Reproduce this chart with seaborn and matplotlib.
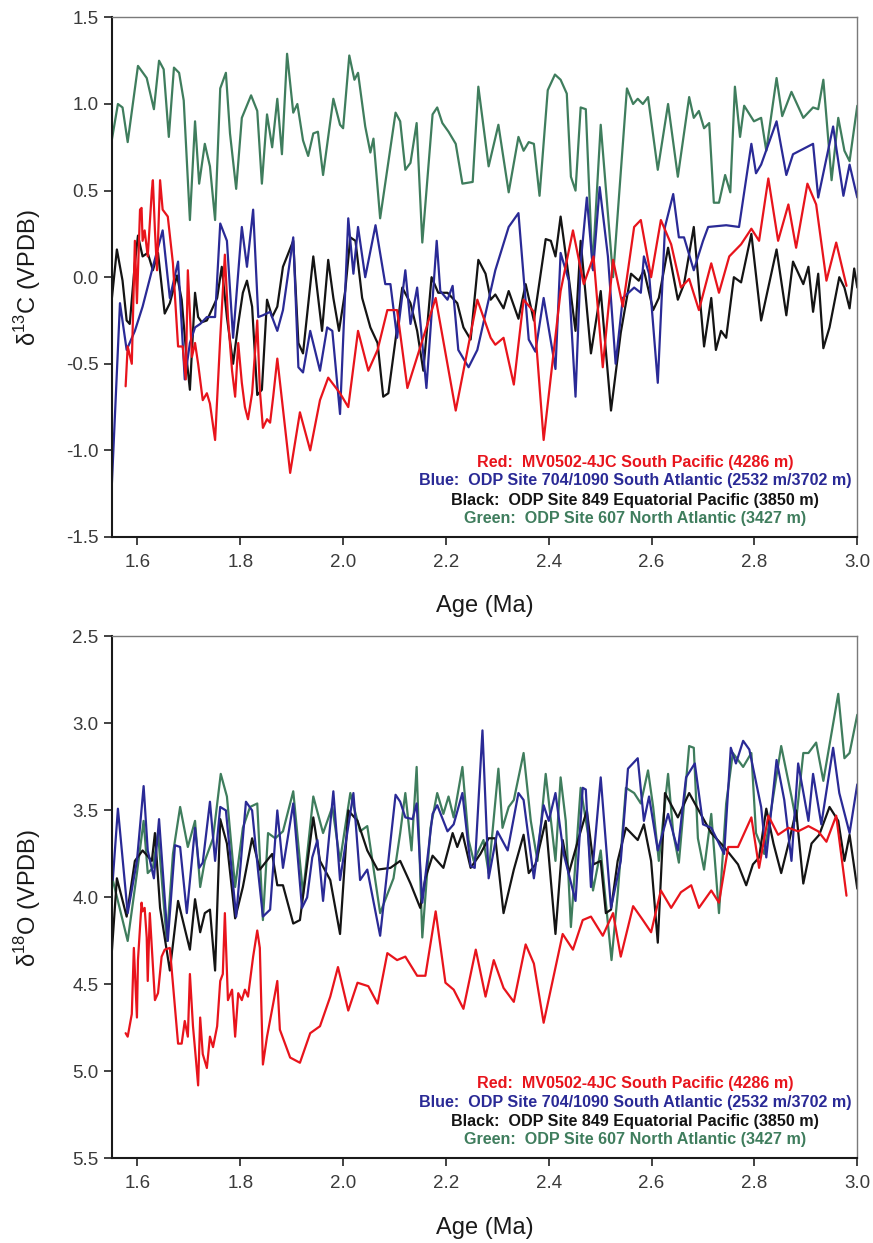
import numpy as np
import pandas as pd
import matplotlib
matplotlib.use('Agg')
import matplotlib.pyplot as plt
import seaborn as sns

# ---------------- 数据 ----------------
# δ13C, 绿色: ODP 607 North Atlantic
c13_green_age = [1.550, 1.562, 1.571, 1.581, 1.601, 1.618, 1.632, 1.642, 1.651, 1.661, 1.671, 1.681, 1.690,
                 1.702, 1.712, 1.720, 1.731, 1.741, 1.751, 1.761, 1.772, 1.780, 1.792, 1.803, 1.821, 1.833,
                 1.842, 1.852, 1.862, 1.872, 1.881, 1.891, 1.903, 1.911, 1.922, 1.932, 1.942, 1.951, 1.961,
                 1.981, 1.994, 2.000, 2.012, 2.022, 2.029, 2.043, 2.053, 2.059, 2.072, 2.102, 2.111, 2.121,
                 2.131, 2.143, 2.154, 2.174, 2.183, 2.193, 2.205, 2.219, 2.232, 2.252, 2.263, 2.283, 2.302,
                 2.322, 2.341, 2.351, 2.361, 2.371, 2.382, 2.398, 2.412, 2.423, 2.435, 2.443, 2.452, 2.462,
                 2.472, 2.485, 2.501, 2.525, 2.552, 2.564, 2.573, 2.583, 2.593, 2.612, 2.632, 2.651, 2.673,
                 2.682, 2.692, 2.702, 2.712, 2.721, 2.731, 2.743, 2.753, 2.762, 2.772, 2.780, 2.799, 2.813,
                 2.823, 2.843, 2.854, 2.872, 2.895, 2.914, 2.924, 2.934, 2.950, 2.963, 2.975, 2.985, 3.000]
c13_green = [0.79, 1.00, 0.98, 0.78, 1.22, 1.15, 0.97, 1.25, 1.20, 0.81, 1.21, 1.18, 1.02,
             0.33, 0.90, 0.54, 0.77, 0.64, 0.33, 1.09, 1.18, 0.83, 0.51, 0.92, 1.05, 0.96,
             0.54, 0.94, 0.75, 1.03, 0.71, 1.29, 0.95, 1.00, 0.79, 0.70, 0.83, 0.84, 0.59,
             1.03, 0.88, 0.86, 1.28, 1.14, 1.18, 0.87, 0.72, 0.80, 0.34, 0.95, 0.90, 0.62,
             0.66, 0.89, 0.20, 0.94, 0.98, 0.89, 0.84, 0.77, 0.54, 0.55, 1.10, 0.64, 0.88,
             0.49, 0.81, 0.73, 0.78, 0.77, 0.47, 1.08, 1.17, 1.14, 1.06, 0.58, 0.50, 0.98,
             0.97, 0.05, 0.88, 0.00, 1.09, 1.00, 1.03, 1.00, 1.04, 0.62, 1.00, 0.58, 1.04,
             0.92, 0.96, 0.86, 0.89, 0.43, 0.43, 0.59, 0.49, 1.10, 0.81, 0.99, 0.90, 0.92,
             0.73, 1.15, 0.93, 1.07, 0.92, 0.98, 0.97, 1.14, 0.56, 0.92, 0.73, 0.67, 0.99]

# δ13C, 蓝色: ODP 704/1090 South Atlantic
c13_blue_age = [1.550, 1.566, 1.579, 1.595, 1.610, 1.630, 1.649, 1.663, 1.679, 1.692, 1.702, 1.712, 1.722,
                1.735, 1.751, 1.761, 1.774, 1.786, 1.803, 1.813, 1.825, 1.835, 1.844, 1.858, 1.872, 1.883,
                1.903, 1.913, 1.922, 1.936, 1.955, 1.969, 1.979, 1.994, 2.010, 2.020, 2.029, 2.043, 2.063,
                2.082, 2.092, 2.105, 2.121, 2.131, 2.144, 2.162, 2.182, 2.189, 2.203, 2.213, 2.224, 2.244,
                2.261, 2.296, 2.322, 2.341, 2.361, 2.374, 2.390, 2.413, 2.423, 2.439, 2.452, 2.462, 2.474,
                2.486, 2.499, 2.515, 2.530, 2.544, 2.566, 2.579, 2.585, 2.595, 2.612, 2.626, 2.642, 2.653,
                2.663, 2.682, 2.700, 2.710, 2.745, 2.770, 2.794, 2.803, 2.813, 2.843, 2.862, 2.875, 2.914,
                2.924, 2.953, 2.973, 2.985, 3.000]
c13_blue = [-1.21, -0.15, -0.42, -0.31, -0.17, 0.06, 0.27, -0.12, 0.09, -0.59, -0.38, -0.29, -0.27,
            -0.23, -0.23, 0.31, 0.21, -0.35, 0.29, 0.06, 0.39, -0.23, -0.22, -0.20, -0.31, -0.19,
            0.23, -0.52, -0.55, -0.31, -0.54, -0.29, -0.31, -0.79, 0.34, 0.02, 0.29, 0.00, 0.30,
            -0.04, -0.04, -0.35, 0.04, -0.27, -0.06, -0.64, 0.21, -0.08, -0.13, -0.05, -0.42, -0.52,
            -0.42, 0.04, 0.29, 0.37, -0.36, -0.43, -0.12, -0.53, 0.14, -0.02, -0.69, 0.08, 0.46,
            0.04, 0.52, 0.12, -0.50, -0.12, -0.06, -0.09, 0.12, 0.02, -0.61, 0.29, 0.48, 0.23,
            0.23, 0.04, 0.21, 0.29, 0.30, 0.29, 0.77, 0.60, 0.65, 0.90, 0.59, 0.71, 0.77,
            0.46, 0.87, 0.47, 0.65, 0.46]

# δ13C, 黑色: ODP 849 Equatorial Pacific
c13_black_age = [1.550, 1.560, 1.571, 1.579, 1.585, 1.595, 1.601, 1.610, 1.620, 1.630, 1.640, 1.653, 1.663,
                 1.677, 1.686, 1.696, 1.702, 1.712, 1.718, 1.725, 1.735, 1.755, 1.764, 1.774, 1.786, 1.796,
                 1.805, 1.813, 1.823, 1.833, 1.842, 1.852, 1.862, 1.872, 1.883, 1.903, 1.913, 1.922, 1.942,
                 1.959, 1.971, 1.981, 1.992, 2.004, 2.014, 2.024, 2.037, 2.053, 2.067, 2.078, 2.088, 2.102,
                 2.115, 2.131, 2.144, 2.156, 2.172, 2.185, 2.203, 2.222, 2.234, 2.248, 2.263, 2.277, 2.287,
                 2.296, 2.312, 2.322, 2.341, 2.355, 2.371, 2.394, 2.404, 2.413, 2.423, 2.437, 2.452, 2.462,
                 2.482, 2.501, 2.521, 2.540, 2.560, 2.575, 2.585, 2.603, 2.614, 2.632, 2.651, 2.663, 2.682,
                 2.702, 2.716, 2.725, 2.735, 2.745, 2.760, 2.774, 2.794, 2.813, 2.843, 2.862, 2.875, 2.895,
                 2.905, 2.914, 2.924, 2.934, 2.946, 2.965, 2.975, 2.985, 2.994, 3.000]
c13_black = [-0.13, 0.16, -0.02, -0.25, -0.27, 0.08, 0.24, 0.12, 0.14, 0.04, 0.14, -0.21, -0.15,
             0.01, -0.13, -0.48, -0.65, -0.09, -0.23, -0.26, -0.25, -0.12, 0.06, -0.23, -0.50, -0.27,
             -0.09, -0.02, -0.17, -0.68, -0.65, -0.13, -0.23, -0.17, 0.06, 0.21, -0.38, -0.44, 0.12,
             -0.31, 0.10, -0.12, -0.31, -0.08, 0.23, 0.21, -0.12, -0.29, -0.38, -0.69, -0.67, -0.36,
             -0.06, -0.15, -0.31, -0.54, 0.00, -0.09, -0.09, -0.15, -0.29, -0.36, 0.10, 0.02, -0.13,
             -0.10, -0.18, -0.08, -0.24, -0.04, -0.25, 0.22, 0.21, 0.12, 0.35, 0.04, -0.31, 0.21,
             -0.44, -0.08, -0.77, -0.32, 0.02, -0.02, 0.04, -0.19, -0.12, 0.17, -0.13, -0.04, 0.29,
             -0.40, -0.12, -0.42, -0.31, -0.35, 0.00, -0.03, 0.25, -0.25, 0.16, -0.22, 0.09, -0.04,
             0.06, -0.20, 0.02, -0.41, -0.29, 0.00, -0.06, -0.18, 0.05, -0.06]

# δ13C, 红色: MV0502-4JC South Pacific
c13_red_age = [1.577, 1.581, 1.589, 1.595, 1.599, 1.605, 1.608, 1.610, 1.614, 1.620, 1.628, 1.630, 1.634,
               1.638, 1.644, 1.649, 1.659, 1.669, 1.679, 1.688, 1.694, 1.698, 1.706, 1.712, 1.718, 1.727,
               1.735, 1.741, 1.751, 1.761, 1.770, 1.776, 1.784, 1.790, 1.796, 1.803, 1.809, 1.815, 1.823,
               1.833, 1.838, 1.844, 1.852, 1.858, 1.864, 1.872, 1.897, 1.916, 1.936, 1.955, 1.971, 1.994,
               2.010, 2.029, 2.049, 2.067, 2.086, 2.105, 2.125, 2.180, 2.219, 2.261, 2.287, 2.296, 2.312,
               2.332, 2.351, 2.371, 2.390, 2.423, 2.447, 2.468, 2.487, 2.505, 2.525, 2.544, 2.566, 2.579,
               2.599, 2.618, 2.638, 2.657, 2.673, 2.692, 2.716, 2.731, 2.751, 2.774, 2.794, 2.809, 2.827,
               2.846, 2.866, 2.881, 2.903, 2.920, 2.940, 2.959, 2.979]
c13_red = [-0.63, -0.40, -0.50, 0.21, -0.15, 0.39, 0.40, 0.21, 0.27, 0.12, 0.50, 0.56, 0.27,
           0.04, 0.56, 0.39, 0.35, 0.08, -0.40, -0.40, -0.59, 0.04, -0.46, -0.38, -0.50, -0.71,
           -0.67, -0.73, -0.94, -0.35, 0.13, -0.23, -0.54, -0.69, -0.38, -0.61, -0.75, -0.82, -0.67,
           -0.25, -0.65, -0.87, -0.82, -0.84, -0.69, -0.47, -1.13, -0.78, -1.00, -0.71, -0.58, -0.67,
           -0.75, -0.31, -0.54, -0.42, -0.19, -0.19, -0.64, -0.12, -0.77, -0.13, -0.35, -0.39, -0.35,
           -0.62, -0.13, -0.20, -0.94, -0.08, 0.27, -0.04, 0.12, -0.52, 0.10, -0.17, 0.29, 0.33,
           0.00, 0.33, 0.19, -0.06, -0.01, -0.19, 0.08, -0.09, 0.12, 0.19, 0.28, 0.21, 0.57,
           0.21, 0.42, 0.17, 0.54, 0.42, -0.02, 0.20, -0.05]

# δ18O, 绿色
o18_green_age = [1.552, 1.581, 1.599, 1.612, 1.620, 1.630, 1.640, 1.657, 1.669, 1.683, 1.698, 1.712, 1.722,
                 1.731, 1.747, 1.762, 1.774, 1.790, 1.805, 1.819, 1.833, 1.844, 1.854, 1.868, 1.883, 1.903,
                 1.922, 1.942, 1.961, 1.979, 1.994, 2.014, 2.033, 2.047, 2.072, 2.098, 2.111, 2.121, 2.133,
                 2.143, 2.154, 2.170, 2.183, 2.195, 2.205, 2.215, 2.232, 2.244, 2.254, 2.273, 2.283, 2.302,
                 2.310, 2.322, 2.332, 2.351, 2.365, 2.378, 2.394, 2.413, 2.423, 2.433, 2.443, 2.462, 2.476,
                 2.486, 2.501, 2.522, 2.534, 2.550, 2.566, 2.579, 2.593, 2.603, 2.614, 2.632, 2.642, 2.653,
                 2.673, 2.682, 2.690, 2.702, 2.716, 2.731, 2.745, 2.758, 2.778, 2.794, 2.803, 2.819, 2.852,
                 2.872, 2.881, 2.895, 2.905, 2.920, 2.934, 2.963, 2.975, 2.985, 3.000]
o18_green = [3.90, 4.25, 3.86, 3.56, 3.86, 3.83, 3.63, 4.25, 3.75, 3.48, 3.71, 3.56, 3.94,
             3.79, 3.66, 3.29, 3.42, 3.94, 3.60, 3.48, 3.46, 4.13, 3.63, 3.66, 3.62, 3.39,
             3.98, 3.42, 3.63, 3.48, 3.79, 3.40, 3.62, 3.59, 4.09, 3.89, 3.63, 3.40, 3.73,
             3.25, 4.23, 3.60, 3.40, 3.52, 3.42, 3.54, 3.25, 3.67, 3.79, 3.67, 3.86, 3.26,
             3.60, 3.48, 3.44, 3.17, 3.56, 3.79, 3.29, 3.79, 3.31, 3.56, 4.17, 3.37, 3.63,
             3.96, 3.73, 4.36, 3.98, 3.37, 3.40, 3.46, 3.27, 3.48, 3.79, 3.29, 3.63, 3.80,
             3.13, 3.14, 3.66, 3.84, 3.52, 4.09, 3.46, 3.17, 3.25, 3.17, 3.63, 3.75, 3.13,
             3.42, 3.56, 3.17, 3.17, 3.11, 3.33, 2.83, 3.20, 3.17, 2.95]

# δ18O, 蓝色
o18_blue_age = [1.552, 1.562, 1.581, 1.599, 1.612, 1.620, 1.632, 1.642, 1.659, 1.673, 1.683, 1.696, 1.712,
                1.720, 1.727, 1.741, 1.751, 1.761, 1.772, 1.792, 1.811, 1.823, 1.835, 1.844, 1.858, 1.872,
                1.883, 1.903, 1.920, 1.930, 1.940, 1.950, 1.961, 1.981, 1.994, 2.008, 2.020, 2.033, 2.047,
                2.072, 2.102, 2.111, 2.121, 2.135, 2.143, 2.154, 2.174, 2.183, 2.203, 2.215, 2.232, 2.248,
                2.256, 2.271, 2.283, 2.300, 2.320, 2.341, 2.351, 2.371, 2.390, 2.400, 2.413, 2.429, 2.452,
                2.466, 2.472, 2.482, 2.501, 2.521, 2.540, 2.554, 2.573, 2.585, 2.595, 2.612, 2.632, 2.651,
                2.667, 2.684, 2.700, 2.716, 2.741, 2.754, 2.764, 2.778, 2.790, 2.813, 2.823, 2.843, 2.858,
                2.872, 2.885, 2.905, 2.914, 2.930, 2.953, 2.965, 2.985, 3.000]
o18_blue = [3.90, 3.49, 4.09, 3.79, 3.36, 3.73, 3.89, 3.55, 4.25, 3.70, 3.71, 4.09, 3.60,
            3.83, 3.80, 3.45, 3.79, 3.48, 3.50, 4.11, 3.45, 3.50, 3.86, 4.11, 4.07, 3.50,
            3.83, 3.46, 4.06, 4.00, 3.77, 3.67, 4.02, 3.39, 3.90, 3.63, 3.40, 3.90, 3.84,
            4.22, 3.41, 3.45, 3.54, 3.55, 3.46, 4.03, 3.52, 3.47, 3.62, 3.58, 3.40, 3.82,
            3.83, 3.04, 3.89, 3.62, 3.73, 3.40, 3.44, 3.89, 3.47, 3.56, 3.40, 3.75, 4.02,
            3.37, 3.38, 3.94, 3.31, 4.06, 3.79, 3.26, 3.20, 3.56, 3.42, 3.73, 3.52, 3.73,
            3.31, 3.23, 3.58, 3.60, 3.75, 3.14, 3.23, 3.10, 3.15, 3.48, 3.77, 3.21, 3.44,
            3.79, 3.23, 3.56, 3.29, 3.58, 3.14, 3.40, 3.63, 3.35]

# δ18O, 黑色
o18_black_age = [1.550, 1.560, 1.579, 1.595, 1.610, 1.628, 1.634, 1.644, 1.663, 1.679, 1.702, 1.712, 1.722,
                 1.731, 1.741, 1.751, 1.761, 1.774, 1.790, 1.805, 1.823, 1.838, 1.862, 1.872, 1.883, 1.903,
                 1.916, 1.942, 1.955, 1.975, 1.994, 2.010, 2.028, 2.047, 2.067, 2.092, 2.111, 2.131, 2.150,
                 2.160, 2.174, 2.195, 2.213, 2.222, 2.232, 2.248, 2.267, 2.283, 2.296, 2.312, 2.332, 2.351,
                 2.361, 2.374, 2.394, 2.413, 2.427, 2.439, 2.458, 2.474, 2.487, 2.501, 2.511, 2.521, 2.534,
                 2.550, 2.573, 2.585, 2.599, 2.612, 2.626, 2.651, 2.673, 2.686, 2.716, 2.741, 2.768, 2.784,
                 2.797, 2.809, 2.823, 2.837, 2.852, 2.868, 2.881, 2.895, 2.911, 2.926, 2.946, 2.963, 2.975,
                 2.985, 3.000]
o18_black = [4.32, 3.89, 4.11, 3.79, 3.73, 3.79, 3.63, 4.06, 4.42, 4.02, 4.30, 4.01, 4.20,
             4.09, 4.07, 4.42, 3.55, 3.69, 4.12, 3.94, 3.66, 3.84, 3.75, 3.93, 3.93, 4.15,
             4.13, 3.54, 3.79, 3.90, 4.21, 3.50, 3.56, 3.73, 3.84, 3.83, 3.79, 3.92, 4.06,
             3.89, 3.76, 3.83, 3.63, 3.71, 3.63, 3.83, 3.75, 3.66, 3.66, 4.09, 3.84, 3.64,
             3.86, 3.81, 3.56, 4.21, 3.67, 3.86, 3.66, 3.50, 3.81, 3.79, 4.09, 4.07, 3.79,
             3.60, 3.67, 3.58, 3.79, 4.26, 3.40, 3.54, 3.40, 3.47, 3.63, 3.71, 3.81, 3.93,
             3.81, 3.77, 3.49, 3.69, 3.86, 3.67, 3.50, 3.92, 3.69, 3.64, 3.48, 3.56, 3.79,
             3.64, 3.95]

# δ18O, 红色
o18_red_age = [1.577, 1.581, 1.589, 1.593, 1.599, 1.601, 1.608, 1.610, 1.614, 1.618, 1.620, 1.624, 1.628,
               1.634, 1.640, 1.647, 1.653, 1.663, 1.679, 1.686, 1.692, 1.698, 1.702, 1.708, 1.714, 1.718,
               1.722, 1.727, 1.735, 1.741, 1.747, 1.755, 1.761, 1.766, 1.770, 1.776, 1.784, 1.790, 1.796,
               1.803, 1.809, 1.815, 1.825, 1.833, 1.838, 1.844, 1.852, 1.864, 1.872, 1.877, 1.897, 1.916,
               1.936, 1.955, 1.975, 1.990, 2.010, 2.028, 2.049, 2.067, 2.086, 2.105, 2.121, 2.144, 2.160,
               2.180, 2.199, 2.215, 2.234, 2.258, 2.277, 2.293, 2.312, 2.332, 2.355, 2.371, 2.390, 2.427,
               2.447, 2.466, 2.482, 2.505, 2.525, 2.540, 2.564, 2.583, 2.599, 2.618, 2.638, 2.657, 2.677,
               2.692, 2.716, 2.731, 2.749, 2.768, 2.794, 2.809, 2.827, 2.846, 2.866, 2.885, 2.905, 2.924,
               2.940, 2.959, 2.979]
o18_red = [4.78, 4.80, 4.67, 4.29, 4.69, 4.36, 4.03, 4.08, 4.06, 4.23, 4.48, 4.09, 4.29,
           4.59, 4.55, 4.34, 4.30, 4.29, 4.84, 4.84, 4.71, 4.80, 4.44, 4.74, 4.94, 5.08,
           4.69, 4.90, 4.98, 4.80, 4.86, 4.74, 4.48, 4.44, 4.09, 4.59, 4.53, 4.80, 4.55,
           4.59, 4.53, 4.57, 4.34, 4.19, 4.29, 4.96, 4.80, 4.61, 4.48, 4.76, 4.92, 4.95,
           4.78, 4.74, 4.57, 4.40, 4.65, 4.49, 4.51, 4.61, 4.32, 4.36, 4.34, 4.45, 4.45,
           4.08, 4.49, 4.53, 4.64, 4.30, 4.57, 4.36, 4.52, 4.60, 4.27, 4.38, 4.72, 4.21,
           4.30, 4.13, 4.11, 4.22, 4.09, 4.34, 4.05, 4.13, 4.20, 3.96, 4.06, 3.97, 3.93,
           4.06, 3.96, 4.03, 3.71, 3.71, 3.54, 3.83, 3.53, 3.64, 3.60, 3.62, 3.59, 3.62,
           3.68, 3.53, 3.99]

x_ticks = [1.6, 1.8, 2.0, 2.2, 2.4, 2.6, 2.8, 3.0]
c13_ticks = [1.5, 1.0, 0.5, 0.0, -0.5, -1.0, -1.5]
o18_ticks = [2.5, 3.0, 3.5, 4.0, 4.5, 5.0, 5.5]

legend_lines = [
    ('Red:  MV0502-4JC South Pacific (4286 m)', '#e8141c'),
    ('Blue:  ODP Site 704/1090 South Atlantic (2532 m/3702 m)', '#2a2a96'),
    ('Black:  ODP Site 849 Equatorial Pacific (3850 m)', '#141414'),
    ('Green:  ODP Site 607 North Atlantic (3427 m)', '#3f7d5d'),
]

# ---------------- 样式 ----------------
sns.set_style('white')
plt.rcParams['font.family'] = ['Liberation Sans', 'DejaVu Sans']
plt.rcParams['mathtext.fontset'] = 'custom'
plt.rcParams['mathtext.rm'] = 'Liberation Sans'

colors = {'red': '#e8141c', 'blue': '#2a2a96', 'black': '#141414', 'green': '#3f7d5d'}

fig = plt.figure(figsize=(8.73, 12.43), dpi=100)
ax_top = fig.add_axes([0.128, 0.568, 0.854, 0.418])
ax_bot = fig.add_axes([0.128, 0.068, 0.854, 0.420])


def draw_series(ax, series):
    # 先画绿色, 红色放在最上层
    for age, val, c in series:
        df = pd.DataFrame({'age': age, 'val': val})
        sns.lineplot(data=df, x='age', y='val', ax=ax, color=colors[c], lw=1.6,
                     sort=False, estimator=None)


def style_axes(ax, yticks, ylabel):
    ax.set_xlim(1.55, 3.0)
    ax.set_xticks(x_ticks)
    ax.set_xticklabels([f'{t:.1f}' for t in x_ticks])
    ax.set_yticks(yticks)
    ax.set_yticklabels([f'{t:.1f}' for t in yticks])
    ax.tick_params(axis='both', which='both', direction='out', length=6, width=1.2,
                   colors='#222222', labelcolor='#3a3a3a', labelsize=13.5,
                   bottom=True, left=True, top=False, right=False)
    ax.tick_params(axis='x', pad=6)
    for side in ['left', 'bottom']:
        ax.spines[side].set_color('#1a1a1a')
        ax.spines[side].set_linewidth(1.5)
    for side in ['top', 'right']:
        ax.spines[side].set_color('#7a7a7a')
        ax.spines[side].set_linewidth(1.0)
    ax.set_xlabel('Age (Ma)', fontsize=17, color='#1a1a1a')
    ax.set_ylabel(ylabel, fontsize=17, color='#1a1a1a')
    ax.yaxis.set_label_coords(-0.092, 0.5)
    ax.xaxis.set_label_coords(0.5, -0.112)
    ax.grid(False)
    # 图例文字 (居中, 各自颜色)
    ys = [0.144, 0.108, 0.071, 0.036]
    for (txt, c), y in zip(legend_lines, ys):
        ax.text(0.702, y, txt, transform=ax.transAxes, ha='center', va='center',
                fontsize=11.6, fontweight='bold', color=c)


# 上图: δ13C
draw_series(ax_top, [(c13_green_age, c13_green, 'green'),
                     (c13_black_age, c13_black, 'black'),
                     (c13_blue_age, c13_blue, 'blue'),
                     (c13_red_age, c13_red, 'red')])
ax_top.set_ylim(-1.5, 1.5)
style_axes(ax_top, c13_ticks, 'δ$^{13}$C (VPDB)')

# 下图: δ18O (纵轴反向)
draw_series(ax_bot, [(o18_green_age, o18_green, 'green'),
                     (o18_black_age, o18_black, 'black'),
                     (o18_blue_age, o18_blue, 'blue'),
                     (o18_red_age, o18_red, 'red')])
ax_bot.set_ylim(5.5, 2.5)
style_axes(ax_bot, o18_ticks, 'δ$^{18}$O (VPDB)')

fig.savefig('out.png', dpi=100)
plt.close(fig)
